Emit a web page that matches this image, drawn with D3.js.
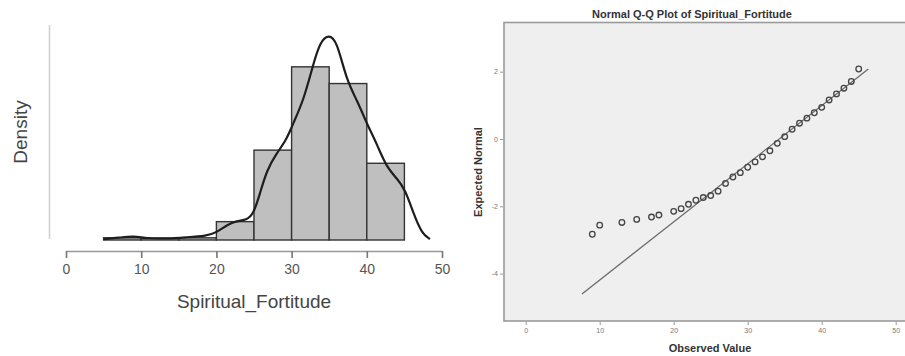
<!DOCTYPE html>
<html lang="en">
<head>
	<meta charset="utf-8">
	<title>Spiritual_Fortitude</title>
	<script type="text/javascript" src="https://cdn.jsdelivr.net/npm/d3@7"></script>
	<style type="text/css">
		body { margin: 0; background: #fff; }
		svg { display: block; }
	</style>
</head>
<body>
<script type="text/javascript">
	// histogram bins (lower edge, upper edge) and density
	var binStart = [5, 10, 15, 20, 25, 30, 35, 40];
	var binEnd = [10, 15, 20, 25, 30, 35, 40, 45];
	var binDensity = [0.0008, 0.0006, 0.0008, 0.0067, 0.0328, 0.0632, 0.0571, 0.028];

	// kernel density curve
	var kdeX = [5.0, 7.0, 9.0, 10.7, 13.4, 16.0, 18.7, 20.0, 21.4, 22.7, 24.0, 24.9, 25.8, 26.7, 28.0, 29.3, 30.2, 31.6, 32.9, 33.8, 34.9, 36.0, 37.3, 38.7, 40.0, 41.3, 42.6, 44.0, 45.1, 46.2, 47.3, 48.4];
	var kdeY = [0.0003, 0.0008, 0.0015, 0.0006, 0.0005, 0.001, 0.0015, 0.0027, 0.0055, 0.007, 0.0073, 0.0092, 0.017, 0.0255, 0.0316, 0.0365, 0.0425, 0.051, 0.0644, 0.0723, 0.075, 0.0729, 0.0583, 0.051, 0.0425, 0.0353, 0.0267, 0.0225, 0.0185, 0.0097, 0.0024, 0.0003];

	var histTicks = [0, 10, 20, 30, 40, 50];

	// Q-Q plot: observed values and expected normal scores
	var qqObserved = [9, 10, 13, 15, 17, 18, 20, 21, 22, 23, 24, 25, 26, 27, 28, 29, 30, 31, 32, 33, 34, 35, 36, 37, 38, 39, 40, 41, 42, 43, 44, 45];
	var qqExpected = [-2.83, -2.56, -2.48, -2.39, -2.32, -2.26, -2.15, -2.07, -1.94, -1.82, -1.74, -1.68, -1.55, -1.32, -1.13, -1.0, -0.84, -0.68, -0.53, -0.35, -0.13, 0.07, 0.29, 0.47, 0.62, 0.78, 0.94, 1.16, 1.34, 1.51, 1.71, 2.08];
	// reference line: mean / sd and its x extent
	var qqMean = 34.26;
	var qqSd = 5.79;
	var qqLineX = [7.6, 46.3];
	var qqXTicks = [0, 10, 20, 30, 40, 50];
	var qqYTicks = [-4, -2, 0, 2];

	var w = 905;
	var h = 356;
	var svg = d3.select("body")
		.append("svg")
		.attr("width", w)
		.attr("height", h)
		.style("font-family", "'Liberation Sans', Arial, sans-serif")

	// ---------- left: histogram + density ----------
	var xH = d3.scaleLinear().domain([0, 50]).range([66, 442]);
	var yH = d3.scaleLinear().domain([0, 0.075]).range([240, 34.5]);

	var left = svg.append("g")

	// faint y axis line (no ticks)
	left.append("line")
		.attr("x1", 49.5).attr("x2", 49.5)
		.attr("y1", 25).attr("y2", 239)
		.attr("stroke", "#cfcfcf")
		.attr("stroke-width", 1.5)

	left.selectAll("rect.bin")
		.data(binDensity)
		.enter()
		.append("rect")
		.attr("class", "bin")
		.attr("x", function(d, i) { return xH(binStart[i]); })
		.attr("y", function(d) { return yH(d); })
		.attr("width", function(d, i) { return xH(binEnd[i]) - xH(binStart[i]); })
		.attr("height", function(d) { return yH(0) - yH(d); })
		.attr("fill", "#bfbfbf")
		.attr("stroke", "#333")
		.attr("stroke-width", 1.4)

	var kdePts = kdeX.map(function(x, i) { return [x, kdeY[i]]; });
	var kdeLine = d3.line()
		.x(function(d) { return xH(d[0]); })
		.y(function(d) { return yH(d[1]); })
		.curve(d3.curveBasis)
	left.append("path")
		.datum(kdePts)
		.attr("d", kdeLine)
		.attr("fill", "none")
		.attr("stroke", "#1e1e1e")
		.attr("stroke-width", 2.2)

	var xAxisH = left.append("g")
		.attr("transform", "translate(0,251)")
		.call(d3.axisBottom(xH).tickValues(histTicks).tickSize(7).tickSizeOuter(0).tickPadding(6))
	xAxisH.select(".domain").attr("stroke", "#999").attr("stroke-width", 1.3)
	xAxisH.selectAll(".tick line").attr("stroke", "#777").attr("stroke-width", 1.6)
	xAxisH.selectAll(".tick text")
		.attr("fill", "#555")
		.attr("font-size", "14px")
		.attr("font-family", "'Liberation Sans', Arial, sans-serif")

	left.append("text")
		.attr("x", 254)
		.attr("y", 308)
		.attr("text-anchor", "middle")
		.attr("font-size", "19px")
		.attr("fill", "#444")
		.text("Spiritual_Fortitude")

	left.append("text")
		.attr("transform", "translate(27,132) rotate(-90)")
		.attr("text-anchor", "middle")
		.attr("font-size", "19px")
		.attr("fill", "#444")
		.text("Density")

	// ---------- right: normal Q-Q plot ----------
	var xQ = d3.scaleLinear().domain([0, 50]).range([525.7, 895.7]);
	var yQ = d3.scaleLinear().domain([0, 2]).range([139, 71.7]);
	var plotL = 504, plotT = 22.5, plotR = 906, plotB = 321;

	var right = svg.append("g")

	right.append("rect")
		.attr("x", plotL).attr("y", plotT)
		.attr("width", plotR - plotL).attr("height", plotB - plotT)
		.attr("fill", "#efefef")
		.attr("stroke", "#9a9a9a")
		.attr("stroke-width", 1.6)

	right.append("text")
		.attr("x", 692)
		.attr("y", 18)
		.attr("text-anchor", "middle")
		.attr("font-size", "11px")
		.attr("font-weight", "bold")
		.attr("fill", "#333")
		.text("Normal Q-Q Plot of Spiritual_Fortitude")

	// reference line
	right.append("line")
		.attr("x1", xQ(qqLineX[0]))
		.attr("y1", yQ((qqLineX[0] - qqMean) / qqSd))
		.attr("x2", xQ(qqLineX[1]))
		.attr("y2", yQ((qqLineX[1] - qqMean) / qqSd))
		.attr("stroke", "#6a6a6a")
		.attr("stroke-width", 1.3)

	right.selectAll("circle")
		.data(qqObserved)
		.enter()
		.append("circle")
		.attr("cx", function(d) { return xQ(d); })
		.attr("cy", function(d, i) { return yQ(qqExpected[i]); })
		.attr("r", 2.8)
		.attr("fill", "none")
		.attr("stroke", "#444")
		.attr("stroke-width", 1.3)

	var plain = function(d) { return String(d); };
	var xAxisQ = right.append("g")
		.attr("transform", "translate(0,322)")
		.call(d3.axisBottom(xQ).tickValues(qqXTicks).tickFormat(plain).tickSize(3).tickSizeOuter(0).tickPadding(3))
	xAxisQ.select(".domain").remove()
	var yAxisQ = right.append("g")
		.attr("transform", "translate(503,0)")
		.call(d3.axisLeft(yQ).tickValues(qqYTicks).tickFormat(plain).tickSize(3).tickSizeOuter(0).tickPadding(2))
	yAxisQ.select(".domain").remove()
	right.selectAll(".tick line").attr("stroke", "#999")
	right.selectAll(".tick text")
		.attr("fill", "#777")
		.attr("font-size", "7px")
		.attr("font-family", "'Liberation Sans', Arial, sans-serif")

	right.append("text")
		.attr("x", 710)
		.attr("y", 352)
		.attr("text-anchor", "middle")
		.attr("font-size", "11px")
		.attr("font-weight", "bold")
		.attr("fill", "#333")
		.text("Observed Value")

	right.append("text")
		.attr("transform", "translate(482,172) rotate(-90)")
		.attr("text-anchor", "middle")
		.attr("font-size", "11px")
		.attr("font-weight", "bold")
		.attr("fill", "#333")
		.text("Expected Normal")
</script>
</body>
</html>
